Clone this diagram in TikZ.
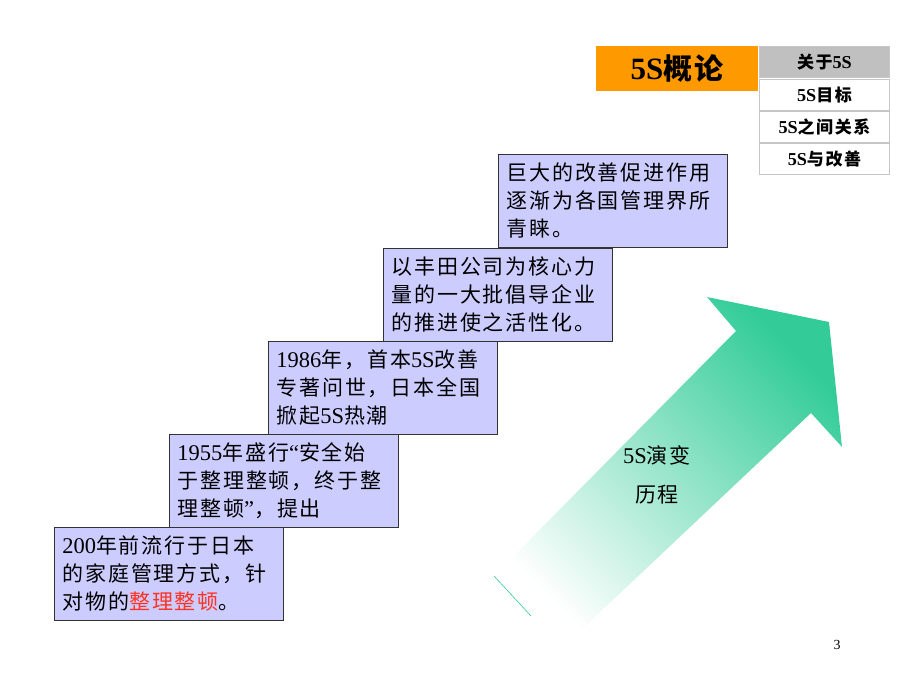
\documentclass[tikz,border=0pt]{standalone}
\usepackage{fontspec}
\setmainfont{Liberation Serif}[Scale=1.07]
\newfontfamily\cjk{Noto Sans CJK SC}[LetterSpace=9]
\newcommand\tnr[1]{{\rmfamily #1}}
\definecolor{boxfill}{HTML}{CCCCFF}
\definecolor{hired}{HTML}{FF3322}
\definecolor{horange}{HTML}{FF9900}
\definecolor{agreen}{HTML}{33CC99}
\definecolor{menugray}{HTML}{C0C0C0}
\begin{document}
\begin{tikzpicture}[x=1pt,y=-1pt,
  stepbox/.style={draw=black!80, line width=0.8pt, fill=boxfill, minimum width=229pt,
    minimum height=93pt, inner sep=0pt, text width=213pt, align=left, anchor=north west,
    font=\cjk\fontsize{21}{28}\selectfont},
  menubox/.style={draw=gray!45, line width=0.8pt, minimum width=130pt, minimum height=31pt,
    inner sep=0pt, anchor=north west, font=\cjk\bfseries\fontsize{17}{19}\selectfont},
  plain/.style={font=\cjk\fontsize{21}{24}\selectfont, inner sep=0pt}]
\useasboundingbox (0,0) rectangle (920,690);

% arrow
\path[bottom color=white, middle color=agreen!30!white, top color=agreen, shading angle=-45]
  (494,576) -- (736,331) -- (707,297) -- (829,322) -- (842,447) -- (811,413) -- (562,648) -- cycle;
\coordinate (capA) at (494,576);
\coordinate (capB) at (531,616);
\draw[agreen, line width=0.6pt] (capA) -- (capB);
\node[plain] (evo) at (657,455) {\tnr{5S}演变};
\node[plain] (hist) at (657,495) {历程};

% step boxes
\node[stepbox] (b5) at (498,154) {巨大的改善促进作用\\逐渐为各国管理界所\\青睐。};
\node[stepbox] (b4) at (383,248) {以丰田公司为核心力\\量的一大批倡导企业\\的推进使之活性化。};
\node[stepbox] (b3) at (268,341) {\tnr{1986}年，首本\tnr{5S}改善\\专著问世，日本全国\\掀起\tnr{5S}热潮};
\node[stepbox] (b2) at (169,434) {\tnr{1955}年盛行\tnr{“}安全始\\于整理整顿，终于整\\理整顿\tnr{”}，提出};
\node[stepbox] (b1) at (54,527) {\tnr{200}年前流行于日本\\的家庭管理方式，针\\对物的\textcolor{hired}{整理整顿}。};

% header
\node[fill=horange, minimum width=162pt, minimum height=45pt, anchor=north west, inner sep=0pt,
  font=\cjk\bfseries\fontsize{29}{32}\selectfont] (title) at (596,46) {\tnr{5S}概论};
\node[menubox, fill=menugray] (m1) at (759,46) {关于\tnr{5S}};
\node[menubox] (m2) at (759,79) {\tnr{5S}目标};
\node[menubox] (m3) at (759,111) {\tnr{5S}之间关系};
\node[menubox] (m4) at (759,143) {\tnr{5S}与改善};

\node[font=\fontsize{13}{15}\selectfont] (pg) at (837,645) {3};
\end{tikzpicture}
\end{document}
